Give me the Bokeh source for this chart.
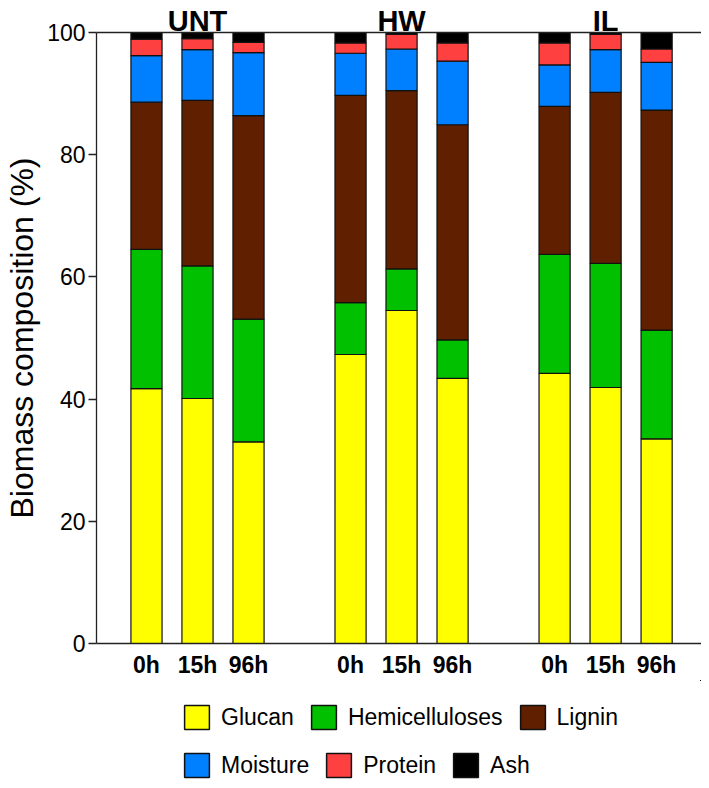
from bokeh.plotting import figure
from bokeh.layouts import column
from bokeh.models import (Range1d, FixedTicker, Legend, LegendItem,
                          ColumnDataSource, LinearAxis)
from bokeh.embed import file_html
from bokeh.resources import INLINE

groups = ["UNT", "HW", "IL"]
times = ["0h", "15h", "96h"]
components = ["Glucan", "Hemicelluloses", "Lignin", "Moisture", "Protein", "Ash"]

glucan = [41.7, 40.1, 33.0, 47.3, 54.5, 43.4, 44.2, 41.9, 33.5]
hemicelluloses = [22.8, 21.7, 20.1, 8.5, 6.8, 6.3, 19.5, 20.3, 17.8]
lignin = [24.1, 27.1, 33.3, 33.9, 29.2, 35.2, 24.2, 28.0, 36.0]
moisture = [7.6, 8.3, 10.3, 6.9, 6.8, 10.4, 6.8, 7.0, 7.8]
protein = [2.7, 1.8, 1.7, 1.7, 2.4, 3.0, 3.6, 2.5, 2.2]
ash = [1.1, 1.0, 1.6, 1.7, 0.3, 1.7, 1.7, 0.3, 2.7]

y_ticks = [0, 20, 40, 60, 80, 100]
colors = ["#FFFF00", "#00C000", "#602000", "#0080FF", "#FF4040", "#000000"]

FONT = "Liberation Sans"
AXIS = "#222222"

xs, x_labels, group_centers, group_labels = [], {}, [], {}
for gi, g in enumerate(groups):
    base = gi * (len(times) + 1)
    c = base + (len(times) - 1) / 2
    group_centers.append(c)
    group_labels[c] = g
    for ti, t in enumerate(times):
        xs.append(base + ti)
        x_labels[base + ti] = t

source = ColumnDataSource(dict(x=xs, Glucan=glucan, Hemicelluloses=hemicelluloses,
                               Lignin=lignin, Moisture=moisture, Protein=protein, Ash=ash))

# ---------------- main chart ----------------
p = figure(width=701, height=680, output_backend="svg", toolbar_location=None,
           x_range=Range1d(-0.98, 10.88), y_range=Range1d(0, 100),
           min_border_left=96, min_border_right=0, min_border_top=32,
           min_border_bottom=36)
p.xgrid.visible = False
p.ygrid.visible = False
p.outline_line_color = None

bars = p.vbar_stack(components, x="x", width=0.61, fill_color=colors,
                    line_color="#111111", line_width=1.2, source=source)

ya = p.yaxis[0]
ya.ticker = FixedTicker(ticks=y_ticks)
ya.major_tick_out = 8
ya.major_tick_in = 0
ya.minor_tick_line_color = None
ya.axis_line_color = AXIS
ya.axis_line_width = 1.3
ya.major_tick_line_color = AXIS
ya.major_tick_line_width = 1.3
ya.major_label_text_font = FONT
ya.major_label_text_font_size = "23px"
ya.major_label_text_color = "black"
ya.major_label_standoff = 3
ya.axis_label = "Biomass composition (%)"
ya.axis_label_text_font = FONT
ya.axis_label_text_font_size = "32px"
ya.axis_label_text_font_style = "normal"
ya.axis_label_text_color = "black"
ya.axis_label_standoff = 4

xa = p.xaxis[0]
xa.ticker = FixedTicker(ticks=xs)
xa.major_label_overrides = x_labels
xa.major_tick_line_color = None
xa.major_tick_out = 0
xa.major_tick_in = 0
xa.minor_tick_line_color = None
xa.axis_line_color = AXIS
xa.axis_line_width = 1.3
xa.major_label_text_font = FONT
xa.major_label_text_font_size = "23px"
xa.major_label_text_font_style = "bold"
xa.major_label_text_color = "black"
xa.major_label_standoff = 8

# top frame line + group titles
top = LinearAxis(ticker=FixedTicker(ticks=group_centers),
                 major_label_overrides=group_labels,
                 major_tick_line_color=None, major_tick_out=0, major_tick_in=0,
                 minor_tick_line_color=None, axis_line_color=AXIS,
                 axis_line_width=1.3, major_label_standoff=-4,
                 major_label_text_font=FONT, major_label_text_font_size="29px",
                 major_label_text_font_style="bold", major_label_text_color="black")
p.add_layout(top, "above")

# ---------------- legend panel ----------------
leg = figure(width=701, height=100, output_backend="svg", toolbar_location=None,
             x_range=Range1d(-200, -199), y_range=Range1d(-200, -199),
             min_border=0, x_axis_location=None, y_axis_location=None)
leg.outline_line_color = None
leg.grid.visible = False
swatches = leg.vbar_stack(components, x="x", width=0.61, fill_color=colors,
                          line_color="#111111", line_width=1.5, source=source)


def make_legend(names, rends, loc):
    return Legend(items=[LegendItem(label=n, renderers=[r]) for n, r in zip(names, rends)],
                  orientation="horizontal", location=loc, glyph_width=31, glyph_height=30,
                  label_standoff=9, spacing=14, padding=0, margin=0,
                  border_line_color=None, background_fill_alpha=0,
                  label_text_font=FONT, label_text_font_size="23px",
                  label_text_color="black", label_height=30)


leg.add_layout(make_legend(components[:3], swatches[:3], (85, 48)))
leg.add_layout(make_legend(components[3:], swatches[3:], (85, 0)))

open("out.html", "w").write(file_html(column(p, leg), INLINE))
